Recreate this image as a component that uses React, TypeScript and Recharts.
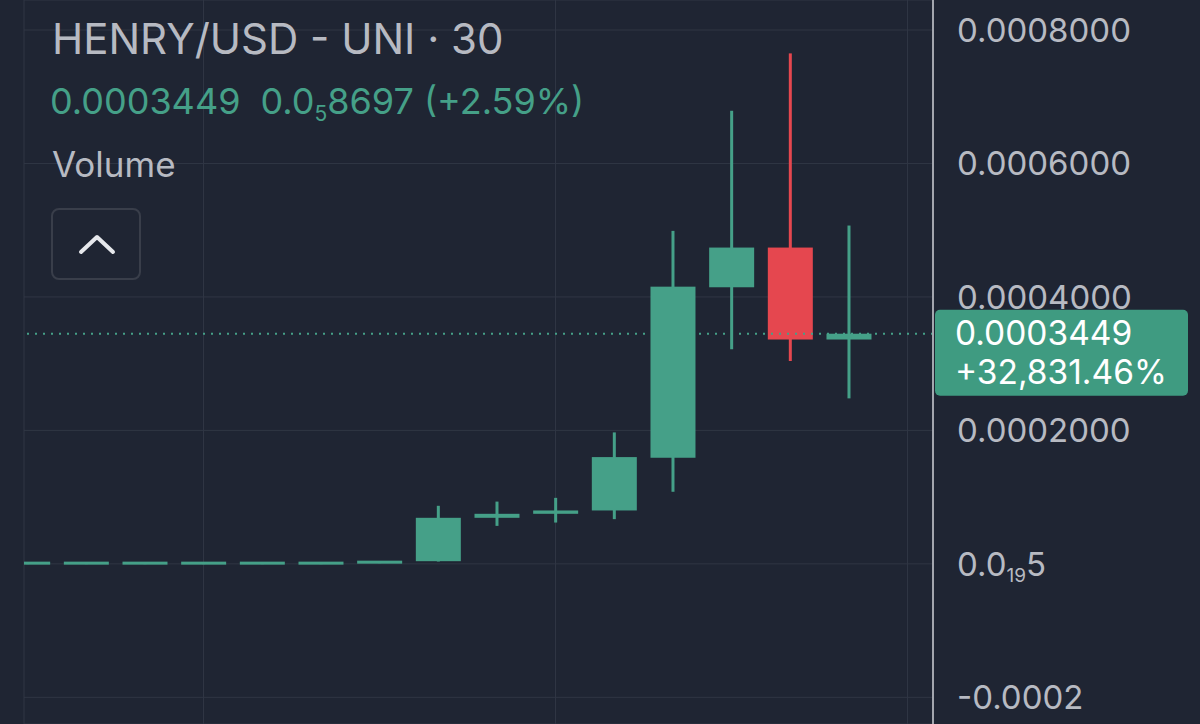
import React from 'react';
import { ComposedChart, Bar, XAxis, YAxis, CartesianGrid, ReferenceLine } from 'recharts';

// 30 min candles, oldest first
const candleIndex = [0, 1, 2, 3, 4, 5, 6, 7, 8, 9, 10, 11, 12, 13, 14];
const opens = [0.000001047, 0.000001047, 0.000001047, 0.000001047, 0.000001047, 0.000001047, 0.00000105, 0.000004, 0.000069, 0.000075, 0.00008, 0.000159, 0.0004145, 0.000474, 0.0003362];
const highs = [0.00000105, 0.00000105, 0.00000105, 0.00000105, 0.00000105, 0.00000105, 0.0000042, 0.000087, 0.0000933, 0.0000989, 0.000197, 0.000499, 0.000679, 0.000765, 0.000507];
const lows = [0.00000104, 0.00000104, 0.00000104, 0.00000104, 0.00000104, 0.00000104, 0.00000104, 0.0000035, 0.0000569, 0.0000619, 0.000067, 0.000108, 0.0003216, 0.000304, 0.000248];
const closes = [0.000001047, 0.000001047, 0.000001047, 0.000001047, 0.000001047, 0.00000105, 0.000004, 0.000069, 0.000075, 0.00008, 0.00016, 0.0004154, 0.000474, 0.0003362, 0.0003449];

const yTicks = [-0.0002, 0, 0.0002, 0.0004, 0.0006, 0.0008];
const yTickLabels = ['-0.0002', '0.0₁₉5', '0.0002000', '0.0004000', '0.0006000', '0.0008000'];
const timeGridTicks = [3, 9, 15];

const title = 'HENRY/USD - UNI · 30';
const lastPrice = '0.0003449';
const lastChange = '0.0₅8697';
const lastChangePct = '(+2.59%)';
const totalChange = '+32,831.46%';

const BG = '#1f2533';
const GRID = '#303644';
const UP = '#45a088';
const DOWN = '#e5474f';
const TEXT = '#b7bac2';
const FONT = 'Inter, Roboto, sans-serif';

const candles = candleIndex.map((i) => ({ i, o: opens[i], h: highs[i], l: lows[i], c: closes[i] }));

const SUBS = '₀₁₂₃₄₅₆₇₈₉';
function splitSub(s: string) {
  const parts: { text: string; sub: boolean }[] = [];
  for (const ch of s) {
    const k = SUBS.indexOf(ch);
    const sub = k >= 0;
    const t = sub ? String(k) : ch;
    const last = parts[parts.length - 1];
    if (last && last.sub === sub) last.text += t;
    else parts.push({ text: t, sub });
  }
  return parts;
}

const colorOf = (p: any) => (p.c >= p.o ? UP : DOWN);

const Wick = (props: any) => {
  const { x, y, width, height, payload } = props;
  return <rect x={x} y={y} width={width} height={Math.max(height, 1)} fill={colorOf(payload)} />;
};

const Body = (props: any) => {
  const { x, y, width, height, payload } = props;
  let top = y;
  let h = height;
  if (h < 3) {
    top = y + h / 2 - 1.5;
    h = 3;
  }
  return <rect x={x} y={top} width={width} height={h} fill={colorOf(payload)} />;
};

const AxisTick = (props: any) => {
  const { x, y, payload } = props;
  const idx = yTicks.indexOf(payload.value);
  const label = idx >= 0 ? yTickLabels[idx] : String(payload.value);
  const parts = splitSub(label);
  return (
    <text x={x + 24} y={y + 12} fill={TEXT} fontSize={33} fontFamily={FONT} textAnchor="start">
      {parts.map((p, k) =>
        p.sub ? (
          <tspan key={k} fontSize={19} dy={6}>{p.text}</tspan>
        ) : (
          <tspan key={k} dy={k > 0 && parts[k - 1].sub ? -6 : undefined}>{p.text}</tspan>
        )
      )}
    </text>
  );
};

const PriceLabel = (props: any) => {
  const { viewBox } = props;
  const right = viewBox.x + viewBox.width;
  const y = viewBox.y;
  return (
    <g>
      <rect x={right + 2} y={y - 24} width={253} height={86} rx={5} fill="#3f9b81" />
      <text x={right + 22} y={y + 11} fill="#ffffff" fontSize={33.5} fontFamily={FONT}>{lastPrice}</text>
      <text x={right + 22} y={y + 50} fill="#ffffff" fontSize={33.5} fontFamily={FONT}>{totalChange}</text>
    </g>
  );
};

const SubText = ({ s, size }: { s: string; size: number }) => (
  <>
    {splitSub(s).map((p, k) =>
      p.sub ? (
        <span key={k} style={{ fontSize: size, position: 'relative', top: 7 }}>{p.text}</span>
      ) : (
        <span key={k}>{p.text}</span>
      )
    )}
  </>
);

export default function App() {
  return (
    <div style={{ position: 'fixed', left: 0, top: 0, width: 1200, height: 724, background: BG, overflow: 'hidden', fontFamily: FONT }}>
      <ComposedChart width={1200} height={724} data={candles} margin={{ top: 0, right: 0, left: 24, bottom: 0 }}>
        <CartesianGrid stroke={GRID} xAxisId="body" vertical horizontal />
        <XAxis xAxisId="body" dataKey="i" type="number" domain={[-0.0597, 15.435]} allowDataOverflow ticks={timeGridTicks} hide />
        <XAxis xAxisId="wick" dataKey="i" type="number" domain={[-0.0597, 15.435]} allowDataOverflow hide />
        <YAxis
          orientation="right"
          width={267}
          type="number"
          domain={[-0.00024, 0.000845]}
          allowDataOverflow
          ticks={yTicks}
          interval={0}
          tickLine={false}
          tickSize={0}
          tickMargin={0}
          axisLine={{ stroke: '#a3a6ae', strokeWidth: 2 }}
          tick={<AxisTick />}
        />
        <Bar xAxisId="wick" dataKey={(d: any) => [d.l, d.h]} barSize={3} shape={<Wick />} isAnimationActive={false} />
        <Bar xAxisId="body" dataKey={(d: any) => [Math.min(d.o, d.c), Math.max(d.o, d.c)]} barSize={45} shape={<Body />} isAnimationActive={false} />
        <ReferenceLine xAxisId="body" y={closes[closes.length - 1]} stroke={UP} strokeWidth={2} strokeDasharray="2 6" label={<PriceLabel />} />
      </ComposedChart>

      <div style={{ position: 'absolute', left: 52, top: 18, fontSize: 42, lineHeight: 1, color: TEXT, whiteSpace: 'nowrap' }}>{title}</div>
      <div style={{ position: 'absolute', left: 50, top: 83, fontSize: 36, lineHeight: 1, color: UP, whiteSpace: 'nowrap' }}>
        <span style={{ marginRight: 20 }}>{lastPrice}</span>
        <SubText s={lastChange} size={21} /> {lastChangePct}
      </div>
      <div style={{ position: 'absolute', left: 52, top: 147, fontSize: 35, lineHeight: 1, color: TEXT, whiteSpace: 'nowrap' }}>Volume</div>
      <div style={{ position: 'absolute', left: 51, top: 208, width: 86, height: 68, border: '2px solid #393e4a', borderRadius: 8 }}>
        <svg width={86} height={68} style={{ display: 'block' }}>
          <polyline points="28,42 44,27 60,42" fill="none" stroke="#e6e8ec" strokeWidth={4} strokeLinecap="round" strokeLinejoin="round" />
        </svg>
      </div>
    </div>
  );
}
